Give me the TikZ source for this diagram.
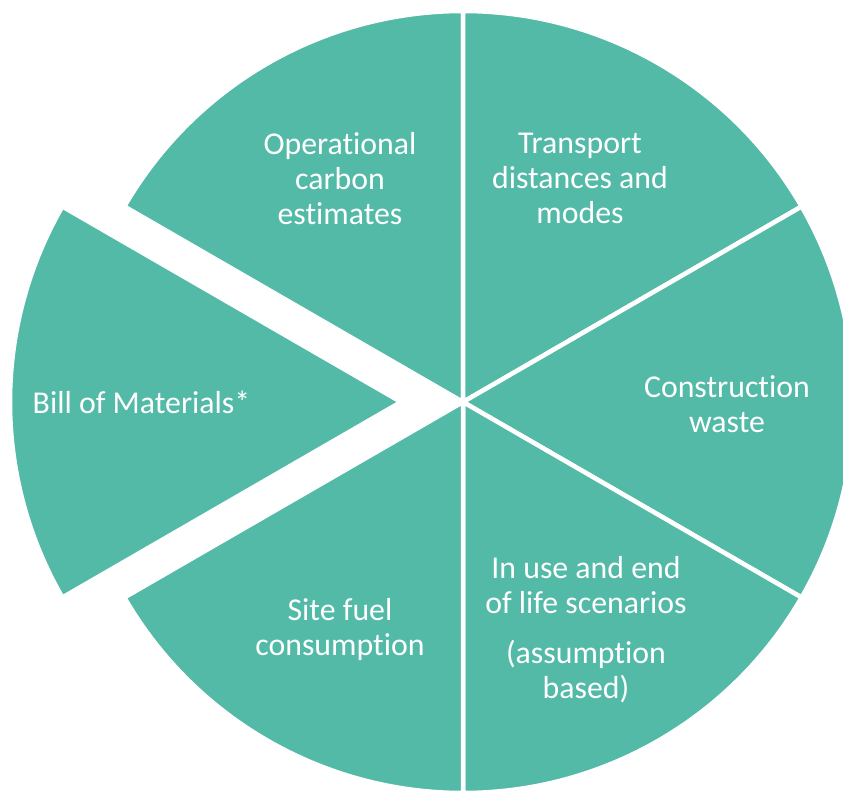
\documentclass[tikz,border=0pt]{standalone}
\usepackage{fontspec}
\setmainfont{Carlito}[Ligatures={NoCommon}]
\definecolor{pieteal}{RGB}{83,186,168}
\tikzset{
  slice/.style={fill=pieteal, draw=white, line width=4.5pt, line join=miter},
  label/.style={text=white, align=center, font=\fontsize{31.8}{35}\selectfont}
}
\begin{document}
\begin{tikzpicture}[x=1pt, y=1pt]
        \useasboundingbox (-463,-390) rectangle (380,402);
        % \draw[help lines] (-463,-390) grid (380,402);
        \def\R{391}

        \draw[slice] (0,0) -- (90:\R) arc[start angle=90, end angle=150, radius=\R] -- cycle;
        \draw[slice] (0,0) -- (30:\R) arc[start angle=30, end angle=90, radius=\R] -- cycle;
        \draw[slice] (0,0) -- (-30:\R) arc[start angle=-30, end angle=30, radius=\R] -- cycle;
        \draw[slice] (0,0) -- (-90:\R) arc[start angle=-90, end angle=-30, radius=\R] -- cycle;
        \draw[slice] (0,0) -- (-150:\R) arc[start angle=-150, end angle=-90, radius=\R] -- cycle;
        \draw[slice, shift={(-62,0)}] (0,0) -- (150:\R) arc[start angle=150, end angle=210, radius=\R] -- cycle;

        \node[label] (operational) at (-123, 223.5) {Operational\\carbon\\estimates};
        \node[label] (transport) at (117, 223.5) {Transport\\distances and\\modes};
        \node[label] (waste) at (264, -2) {Construction\\waste};
        \node[label] (scenarios) at (123, -228) {In use and end\\of life scenarios\\[15pt](assumption\\based)};
        \node[label] (fuel) at (-123, -228) {Site fuel\\consumption};
        \node[label] (materials) at (-321.5, 0) {Bill of Materials*};

    \end{tikzpicture}
\end{document}
